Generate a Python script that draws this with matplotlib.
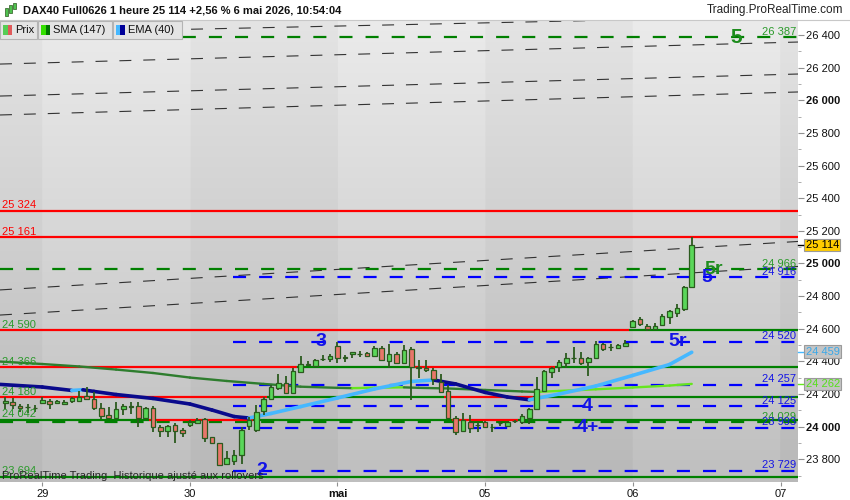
import numpy as np
import matplotlib
matplotlib.use('Agg')
import matplotlib.pyplot as plt
import matplotlib.transforms as mtransforms
from matplotlib.patches import Rectangle
from matplotlib.collections import LineCollection

plt.rcParams['font.family'] = ['Liberation Sans', 'DejaVu Sans']
plt.rcParams['lines.scale_dashes'] = False

# hourly candles, DAX40 future
opens = [24147, 24150, 24127, 24121, 24115, 24147, 24159, 24143, 24137, 24156,
         24160, 24190, 24168, 24116, 24072, 24051, 24107, 24123, 24127, 24055,
         24113, 24000, 23974, 24010, 23980, 24010, 24025, 24045, 23935, 23898,
         23770, 23792, 23827, 24004, 23980, 24096, 24170, 24235, 24270, 24205,
         24337, 24381, 24374, 24412, 24413, 24496, 24423, 24444, 24445, 24450,
         24435, 24480, 24404, 24445, 24388, 24476, 24362, 24361, 24347, 24276,
         24219, 24051, 23974, 24027, 24010, 24031, 23998, 24023, 24006, 24032,
         24027, 24055, 24107, 24221, 24337, 24364, 24388, 24419, 24419, 24395,
         24419, 24505, 24486, 24480, 24496, 24609, 24658, 24619, 24597, 24623,
         24670, 24698, 24721, 24854]
highs = [24180, 24174, 24139, 24139, 24133, 24184, 24168, 24164, 24164, 24184,
         24221, 24245, 24214, 24147, 24119, 24151, 24139, 24151, 24153, 24123,
         24127, 24010, 24010, 24021, 23994, 24041, 24055, 24055, 23937, 23902,
         23851, 23857, 24000, 24059, 24133, 24184, 24255, 24321, 24311, 24358,
         24433, 24403, 24415, 24439, 24445, 24517, 24439, 24460, 24464, 24460,
         24496, 24494, 24507, 24460, 24501, 24490, 24409, 24409, 24358, 24321,
         24255, 24066, 24082, 24072, 24027, 24035, 24015, 24035, 24029, 24041,
         24076, 24113, 24306, 24347, 24368, 24409, 24453, 24486, 24460, 24429,
         24527, 24511, 24507, 24505, 24531, 24654, 24670, 24627, 24634, 24689,
         24715, 24752, 24862, 25160]
lows = [24107, 24107, 24092, 24082, 24092, 24143, 24110, 24139, 24133, 24143,
        24170, 24164, 24102, 24045, 24045, 24045, 24074, 24078, 23996, 24045,
        23969, 23939, 23939, 23902, 23939, 23996, 24021, 23904, 23900, 23761,
        23765, 23765, 23770, 23980, 23969, 24072, 24164, 24225, 24200, 24200,
        24333, 24374, 24372, 24404, 24398, 24388, 24398, 24419, 24425, 24429,
        24429, 24404, 24358, 24382, 24382, 24164, 24297, 24337, 24255, 24205,
        24047, 23949, 23969, 23960, 23969, 23996, 23969, 24006, 24004, 24021,
        24015, 24015, 24102, 24217, 24300, 24337, 24358, 24388, 24378, 24312,
        24415, 24466, 24466, 24474, 24494, 24607, 24619, 24586, 24597, 24619,
        24629, 24674, 24709, 24848]
closes = [24157, 24131, 24113, 24121, 24115, 24164, 24137, 24157, 24151, 24174,
          24179, 24168, 24115, 24067, 24051, 24107, 24127, 24123, 24055, 24113,
          24000, 23975, 24004, 23975, 23960, 24031, 24041, 23929, 23902, 23765,
          23808, 23827, 23980, 24041, 24092, 24168, 24241, 24270, 24205, 24341,
          24382, 24381, 24409, 24412, 24435, 24423, 24423, 24456, 24445, 24435,
          24480, 24409, 24445, 24388, 24470, 24368, 24362, 24346, 24290, 24211,
          24051, 23969, 24042, 23990, 24010, 24000, 23998, 24023, 24027, 24032,
          24066, 24108, 24229, 24341, 24361, 24395, 24423, 24419, 24388, 24423,
          24505, 24474, 24486, 24501, 24511, 24648, 24627, 24597, 24619, 24680,
          24709, 24725, 24854, 25114]

day_ticks = [5, 25, 45, 65, 85, 105.1]
day_labels = ['29', '30', 'mai', '05', '06', '07']

sma_idx = [-0.7, 5, 10, 15, 20, 25, 30, 35, 40, 45, 47, 50, 54, 56, 60, 65, 70, 72, 75, 80, 85, 90, 93]
sma_val = [24399, 24384, 24369, 24350, 24329, 24301, 24280, 24262, 24245, 24238, 24236, 24239,
           24241, 24238, 24234, 24225, 24216, 24213, 24219, 24229, 24240, 24252, 24262]
ema_idx = [-0.7, 5, 9, 10.5, 12, 15, 20, 25, 28, 31, 33, 36, 40, 45, 50, 55, 58, 61, 65, 68,
           71, 75, 80, 85, 90, 93]
ema_val = [24259, 24243, 24222, 24226, 24216, 24197, 24173, 24139, 24102, 24062, 24053, 24081,
           24123, 24176, 24231, 24277, 24286, 24262, 24210, 24182, 24165, 24200, 24249, 24314,
           24381, 24456]

solid_levels = [25324, 25161, 24590, 24366, 24180, 24042, 23694]
green_dash_levels = [26387, 24966, 24029]
blue_dash_levels = [24916, 24520, 24257, 24125, 23993, 23729]
blue_dash_start = 30.8

trend_x = [-0.73, 107.4]
trend_start = [26410, 26222, 26026, 25910, 24838, 24684]
trend_end = [26516, 26357, 26161, 26051, 25135, 24982]

wave_text = ['2', '3', '4', '4+', '5r', '5', '5r', '5']
wave_x = [34.8, 42.8, 78.9, 78.9, 91.1, 95.1, 96.0, 99.0]
wave_y = [23729, 24520, 24125, 23993, 24520, 24916, 24966, 26387]
wave_col = ['#1414e6'] * 6 + ['#1e8c1e', '#1e8c1e']

last_price = 25114
ema_last = 24459
sma_last = 24262

GREEN = '#008000'
RED = '#ff0000'
BLUE = '#0000ff'
xmin, xmax = -0.73, 107.4
ymin, ymax = 23661, 26492

fig = plt.figure(figsize=(8.5, 5), dpi=100)
ax = fig.add_axes([0, 18 / 500, 798 / 850, 462 / 500])

# background: vertical gradient + alternating day bands
xs = np.linspace(xmin, xmax, 850)
band = np.searchsorted(day_ticks, xs, side='right')
dark = (band % 2 == 0).astype(float)
rows = np.linspace(0, 1, 300)[:, None]
shade = 235 - 44 * rows - 7 * dark[None, :]
img = np.repeat(shade[:, :, None], 3, axis=2) / 255.0
ax.imshow(img, extent=[xmin, xmax, ymin, ymax], aspect='auto', origin='upper',
          interpolation='bilinear', zorder=0)

# sloping channel lines
for a, b in zip(trend_start, trend_end):
    ax.plot(trend_x, [a, b], color='#202020', lw=0.8, dashes=(8.6, 8.6), zorder=1, alpha=0.9)

# dashed targets
for lvl in green_dash_levels:
    ax.plot([xmin, xmax], [lvl, lvl], color=GREEN, lw=1.6, dashes=(9.4, 9.4), zorder=2)
for lvl in blue_dash_levels:
    ax.plot([blue_dash_start, xmax], [lvl, lvl], color=BLUE, lw=1.6, dashes=(9.4, 9.4), zorder=2)

# solid support/resistance, green where price closes above
n = len(closes)
idx = np.arange(n)
cl = np.array(closes)
for lvl in solid_levels:
    above = cl > lvl
    start = 0
    for k in range(1, n + 1):
        if k == n or above[k] != above[start]:
            x0 = xmin if start == 0 else start - 0.5
            x1 = xmax if k == n else k - 0.5
            ax.plot([x0, x1], [lvl, lvl], color=GREEN if above[start] else RED,
                    lw=1.6, zorder=3, solid_capstyle='butt')
            start = k


def ma_line(xv, yv, up, down, lw):
    pts = np.column_stack([xv, yv])
    segs = [pts[k:k + 2] for k in range(len(pts) - 1)]
    cols = [up if yv[k + 1] > yv[k] else down for k in range(len(yv) - 1)]
    ax.add_collection(LineCollection(segs, colors=cols, linewidths=lw,
                                     capstyle='round', zorder=4))


ma_line(sma_idx, sma_val, '#66e61e', '#2e7d2e', 1.7)
ma_line(ema_idx, ema_val, '#46b8ff', '#0a0a8c', 2.6)

# candles
op = np.array(opens)
body_lo = np.minimum(op, cl)
body_h = np.maximum(np.abs(cl - op), 1.5)
colors = np.where(cl >= op, '#5ad75a', '#e8766a')
ax.vlines(idx, lows, highs, color='#2b5a1e', lw=1.3, zorder=5)
ax.bar(idx, body_h, bottom=body_lo, width=0.62, color=colors, edgecolor='#2b5a1e',
       linewidth=0.9, zorder=6)

# level labels
blend = mtransforms.blended_transform_factory(ax.transAxes, ax.transData)
for lvl in solid_levels:
    col = GREEN if closes[-1] > lvl else RED
    ax.annotate(f'{lvl:,}'.replace(',', ' '), xy=(0, lvl), xycoords=blend,
                xytext=(1.5, 0.3), textcoords='offset points', ha='left', va='bottom',
                fontsize=8, color='#2a9a2a' if col == GREEN else RED, zorder=8)
for lvl, col in [(l, GREEN) for l in green_dash_levels] + [(l, BLUE) for l in blue_dash_levels]:
    ax.annotate(f'{lvl:,}'.replace(',', ' '), xy=(1, lvl), xycoords=blend,
                xytext=(-1.5, 0.3), textcoords='offset points', ha='right', va='bottom',
                fontsize=8, color='#2a9a2a' if col == GREEN else '#1414e6', zorder=8)

for t, x, y, c in zip(wave_text, wave_x, wave_y, wave_col):
    ax.text(x, y, t, ha='center', va='center', fontsize=14 if t != '5' or c == '#1414e6' else 15,
            fontweight='bold', color=c, zorder=9)

ax.text(0.003, 0.013, 'ProRealTime Trading  Historique ajusté aux rollovers',
        transform=ax.transAxes, fontsize=8, color='#262626', va='center', zorder=9)

ax.set_xlim(xmin, xmax)
ax.set_ylim(ymin, ymax)
for s in ax.spines.values():
    s.set_visible(False)

# right price axis
ax.yaxis.tick_right()
major = list(range(23800, 26401, 200))
ax.set_yticks(major)
ax.set_yticks(list(range(23700, 26500, 100)), minor=True)
ax.set_yticklabels([f'{v:,}'.replace(',', ' ') for v in major])
for lab, v in zip(ax.get_yticklabels(), major):
    if v % 1000 == 0:
        lab.set_fontweight('bold')
        lab.set_fontsize(8.6)
ax.tick_params(axis='y', which='major', length=4, color='#909090', labelsize=8, pad=2,
               labelcolor='#111111')
ax.tick_params(axis='y', which='minor', length=2.5, color='#a0a0a0')

ax.set_xticks(day_ticks)
ax.set_xticklabels(day_labels)
for lab, t in zip(ax.get_xticklabels(), day_labels):
    if t == 'mai':
        lab.set_fontweight('bold')
ax.tick_params(axis='x', length=3, color='#909090', labelsize=8, pad=2, labelcolor='#111111')

# value boxes on the price axis
boxes = [(last_price, '#ffcc00', '#000000', '#000000'),
         (ema_last, '#c4c4c4', '#3aa8e8', '#46b8ff'),
         (sma_last, '#c4c4c4', '#55e01a', '#66e61e')]
for v, fc, tc, mk in boxes:
    ax.annotate(f'{v:,}'.replace(',', ' '), xy=(1, v), xycoords=blend, xytext=(5.5, 0),
                textcoords='offset points', ha='left', va='center', fontsize=8, color=tc,
                bbox=dict(boxstyle='square,pad=0.12', fc=fc, ec='#9a9a9a', lw=0.8),
                annotation_clip=False, zorder=10)
    ax.plot([1.0, 1.006], [v, v], transform=blend, color=mk, lw=1, clip_on=False, zorder=10)

# header
W, H = 850, 500


def fig_rect(x, y, w, h, **kw):
    fig.add_artist(Rectangle((x / W, 1 - (y + h) / H), w / W, h / H,
                             transform=fig.transFigure, **kw))


fig_rect(0, 0, 850, 20, fc='white', ec='none', zorder=1)
fig.add_artist(plt.Line2D([0, 1], [1 - 20 / H, 1 - 20 / H], transform=fig.transFigure,
                          color='#c8c8c8', lw=0.8))
for cx, y0, y1, col in [(6, 8, 16, '#4fc24f'), (10, 5, 13, '#4fc24f'), (14, 3, 9, '#4fc24f')]:
    fig_rect(cx - 1.5, y0, 3, y1 - y0, fc=col, ec='#2b5a1e', lw=0.5, zorder=2)
fig.text(23 / W, 1 - 10.5 / H, 'DAX40 Full0626 1 heure 25 114 +2,56 % 6 mai 2026, 10:54:04',
         fontsize=8, fontweight='bold', va='center', color='#111111')
fig.text(843 / W, 1 - 10.5 / H, 'Trading.ProRealTime.com', fontsize=8.5, ha='right',
         va='center', color='#222222')

legend_cells = [('Prix', 0, 37, '#55cc55', '#e05a5a'),
                ('SMA (147)', 38, 74, '#33e000', '#007700'),
                ('EMA (40)', 113, 69, '#46b8ff', '#000099')]
for name, x, w, c1, c2 in legend_cells:
    fig_rect(x, 21, w, 18, fc='#e4e4e4', ec='#b4b4b4', lw=0.8, zorder=3)
    fig_rect(x + 3, 25, 4.5, 10, fc=c1, ec='none', zorder=4)
    fig_rect(x + 7.5, 25, 4.5, 10, fc=c2, ec='none', zorder=4)
    fig.text((x + 15) / W, 1 - 30 / H, name, fontsize=8, va='center', color='#111111',
             zorder=5)

fig.savefig('out.png', dpi=100, facecolor='white')
